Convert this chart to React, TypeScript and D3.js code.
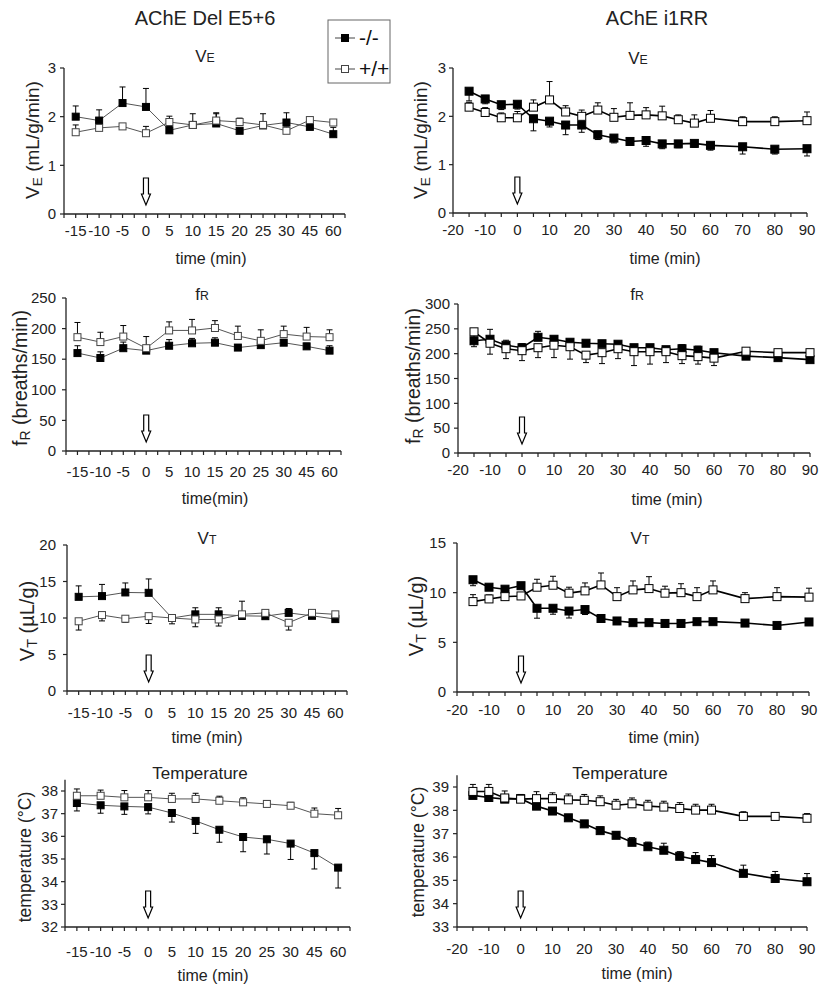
import React from "react";
import * as d3 from "d3";

// ---------- DATA ----------
const leftTimes = ["-15", "-10", "-5", "0", "5", "10", "15", "20", "25", "30", "45", "60"];
const rightTimes = [-15, -10, -5, 0, 5, 10, 15, 20, 25, 30, 35, 40, 45, 50, 55, 60, 70, 80, 90];
const rightXTicks = [-20, -10, 0, 10, 20, 30, 40, 50, 60, 70, 80, 90];

// Left: AChE Del E5+6
const veDelKO = [2.0, 1.92, 2.28, 2.2, 1.72, 1.83, 1.86, 1.71, 1.82, 1.88, 1.79, 1.64];
const veDelKOErr = [0.22, 0.22, 0.33, 0.38, 0.08, 0.06, 0.2, 0.05, 0.06, 0.2, 0.06, 0.14];
const veDelWT = [1.68, 1.77, 1.8, 1.66, 1.89, 1.83, 1.92, 1.89, 1.83, 1.71, 1.93, 1.88];
const veDelWTErr = [0.15, 0.06, 0.06, 0.14, 0.12, 0.23, 0.16, 0.08, 0.23, 0.08, 0.06, 0.06];

const frDelKO = [160, 152, 168, 164, 172, 176, 177, 169, 173, 177, 171, 164];
const frDelKOErr = [12, 10, 10, 5, 10, 8, 8, 5, 5, 5, 5, 8];
const frDelWT = [186, 178, 187, 168, 197, 197, 201, 188, 180, 191, 187, 186];
const frDelWTErr = [24, 16, 18, 19, 14, 18, 12, 16, 18, 13, 15, 12];

const vtDelKO = [12.9, 13.0, 13.5, 13.45, 10.0, 10.5, 10.5, 10.3, 10.25, 10.7, 10.3, 9.85];
const vtDelKOErr = [1.5, 1.6, 1.3, 1.9, 0.3, 0.9, 0.9, 2.0, 0.5, 0.6, 0.4, 0.3];
const vtDelWT = [9.55, 10.4, 9.9, 10.25, 10.0, 9.8, 9.8, 10.5, 10.7, 9.35, 10.7, 10.5];
const vtDelWTErr = [1.2, 0.8, 0.5, 1.0, 0.8, 1.0, 0.9, 0.7, 0.6, 1.0, 0.5, 0.3];

const tDelKO = [37.47, 37.37, 37.32, 37.29, 37.03, 36.68, 36.29, 35.97, 35.87, 35.68, 35.26, 34.62];
const tDelKOErr = [0.35, 0.35, 0.35, 0.3, 0.4, 0.55, 0.55, 0.65, 0.65, 0.7, 0.7, 0.9];
const tDelWT = [37.79, 37.79, 37.72, 37.72, 37.65, 37.65, 37.57, 37.5, 37.43, 37.35, 37.0, 36.93];
const tDelWTErr = [0.3, 0.25, 0.3, 0.3, 0.25, 0.25, 0.2, 0.2, 0.15, 0.15, 0.25, 0.3];

// Right: AChE i1RR
const veRRKO = [2.52, 2.36, 2.24, 2.25, 1.95, 1.9, 1.82, 1.82, 1.62, 1.55, 1.48, 1.5, 1.43, 1.43, 1.44, 1.4, 1.37, 1.32, 1.33];
const veRRKOErr = [0.2, 0.1, 0.1, 0.1, 0.25, 0.12, 0.2, 0.15, 0.1, 0.1, 0.08, 0.12, 0.1, 0.08, 0.08, 0.1, 0.15, 0.1, 0.15];
const veRRWT = [2.19, 2.08, 1.97, 1.97, 2.19, 2.34, 2.09, 2.0, 2.13, 1.98, 2.02, 2.03, 2.01, 1.93, 1.86, 1.96, 1.89, 1.89, 1.91];
const veRRWTErr = [0.1, 0.1, 0.1, 0.13, 0.15, 0.38, 0.13, 0.13, 0.15, 0.18, 0.26, 0.15, 0.2, 0.1, 0.17, 0.16, 0.1, 0.1, 0.18];

const frRRKO = [226, 229, 217, 212, 233, 229, 223, 221, 220, 219, 212, 212, 208, 210, 207, 202, 195, 192, 188];
const frRRKOErr = [5, 20, 10, 8, 12, 6, 5, 5, 5, 5, 5, 5, 5, 8, 8, 5, 5, 5, 5];
const frRRWT = [244, 221, 210, 206, 212, 217, 214, 197, 202, 210, 204, 204, 204, 196, 194, 191, 205, 202, 202];
const frRRWTErr = [30, 22, 20, 20, 20, 25, 25, 15, 22, 20, 28, 25, 22, 16, 15, 15, 5, 5, 5];

const vtRRKO = [11.3, 10.55, 10.35, 10.7, 8.43, 8.43, 8.15, 8.3, 7.4, 7.15, 6.98, 6.98, 6.9, 6.9, 7.08, 7.08, 6.94, 6.7, 7.05];
const vtRRKOErr = [0.6, 0.3, 0.3, 0.3, 1.0, 0.6, 0.7, 0.5, 0.3, 0.2, 0.2, 0.3, 0.2, 0.2, 0.2, 0.2, 0.2, 0.2, 0.2];
const vtRRWT = [9.1, 9.37, 9.6, 9.67, 10.55, 10.75, 9.95, 10.18, 10.78, 9.6, 10.28, 10.41, 9.95, 10.0, 9.6, 10.28, 9.4, 9.6, 9.55];
const vtRRWTErr = [0.7, 0.4, 0.3, 0.3, 0.8, 0.9, 0.6, 0.8, 1.2, 0.9, 0.9, 1.2, 0.7, 0.9, 0.9, 0.9, 0.6, 0.9, 0.9];

const tRRKO = [38.64, 38.55, 38.48, 38.5, 38.18, 37.97, 37.68, 37.42, 37.13, 36.93, 36.63, 36.44, 36.29, 36.03, 35.89, 35.76, 35.3, 35.08, 34.94];
const tRRKOErr = [0.1, 0.1, 0.1, 0.1, 0.1, 0.1, 0.1, 0.1, 0.15, 0.15, 0.2, 0.2, 0.3, 0.2, 0.3, 0.3, 0.35, 0.3, 0.35];
const tRRWT = [38.81, 38.81, 38.53, 38.48, 38.5, 38.5, 38.45, 38.43, 38.37, 38.22, 38.28, 38.18, 38.14, 38.08, 38.01, 38.01, 37.74, 37.74, 37.66];
const tRRWTErr = [0.3, 0.3, 0.3, 0.2, 0.3, 0.25, 0.25, 0.25, 0.25, 0.25, 0.25, 0.25, 0.25, 0.25, 0.25, 0.25, 0.2, 0.15, 0.2];

const veTicks = [0, 1, 2, 3];
const frDelTicks = [0, 50, 100, 150, 200, 250];
const frRRTicks = [0, 50, 100, 150, 200, 250, 300];
const vtDelTicks = [0, 5, 10, 15, 20];
const vtRRTicks = [0, 5, 10, 15];
const tDelTicks = [32, 33, 34, 35, 36, 37, 38];
const tRRTicks = [33, 34, 35, 36, 37, 38, 39];

// ---------- LAYOUT ----------
const FONT = "'Liberation Sans', Arial, sans-serif";
const INK = "#222";

type Series = { vals: number[]; errs: number[]; dir: number; filled: boolean };
type PanelCfg = {
  kind: "cat" | "lin";
  x0: number; x1: number;
  yBottom: number; yTopTick: number;
  ticks: number[]; yMax: number;
  tickLabelX: number; tickLabelY: number;
  title: React.ReactNode; titleX: number; titleY: number;
  ylab: React.ReactNode; ylabBase: number; ylabY: number; ylabFs: number;
  xlab: string; xlabX: number; xlabY: number;
  series: Series[];
};

const sub = (main: string, s: string, shift = 0) => (
  <>
    <tspan>{main}</tspan>
    <tspan fontSize="0.72em" baselineShift={shift ? -shift : undefined}>{s}</tspan>
  </>
);

const panels: PanelCfg[] = [
  {
    kind: "cat", x0: 64, x1: 345, yBottom: 214, yTopTick: 68, ticks: veTicks, yMax: 3,
    tickLabelX: 56, tickLabelY: 231,
    title: sub("V", "E"), titleX: 205, titleY: 56,
    ylab: <>{sub("V", "E", 3)} (mL/g/min)</>, ylabBase: 39, ylabY: 140, ylabFs: 19,
    xlab: "time (min)", xlabX: 211, xlabY: 258,
    series: [
      { vals: veDelKO, errs: veDelKOErr, dir: 1, filled: true },
      { vals: veDelWT, errs: veDelWTErr, dir: 1, filled: false },
    ],
  },
  {
    kind: "lin", x0: 453, x1: 807, yBottom: 213, yTopTick: 68, ticks: veTicks, yMax: 3,
    tickLabelX: 446, tickLabelY: 230,
    title: sub("V", "E"), titleX: 638, titleY: 58,
    ylab: <>{sub("V", "E", 3)} (mL/g/min)</>, ylabBase: 427, ylabY: 140, ylabFs: 19,
    xlab: "time (min)", xlabX: 665, xlabY: 258,
    series: [
      { vals: veRRKO, errs: veRRKOErr, dir: -1, filled: true },
      { vals: veRRWT, errs: veRRWTErr, dir: 1, filled: false },
    ],
  },
  {
    kind: "cat", x0: 66, x1: 341, yBottom: 451, yTopTick: 298, ticks: frDelTicks, yMax: 250,
    tickLabelX: 56, tickLabelY: 472,
    title: sub("f", "R"), titleX: 202, titleY: 294,
    ylab: <>{sub("f", "R", 3)} (breaths/min)</>, ylabBase: 27, ylabY: 378, ylabFs: 19.5,
    xlab: "time(min)", xlabX: 215, xlabY: 498,
    series: [
      { vals: frDelKO, errs: frDelKOErr, dir: 1, filled: true },
      { vals: frDelWT, errs: frDelWTErr, dir: 1, filled: false },
    ],
  },
  {
    kind: "lin", x0: 458, x1: 810, yBottom: 453, yTopTick: 304, ticks: frRRTicks, yMax: 300,
    tickLabelX: 450, tickLabelY: 470,
    title: sub("f", "R"), titleX: 637, titleY: 294,
    ylab: <>{sub("f", "R", 3)} (breaths/min)</>, ylabBase: 420, ylabY: 376, ylabFs: 19.5,
    xlab: "time (min)", xlabX: 667, xlabY: 499,
    series: [
      { vals: frRRKO, errs: frRRKOErr, dir: 1, filled: true },
      { vals: frRRWT, errs: frRRWTErr, dir: -1, filled: false },
    ],
  },
  {
    kind: "cat", x0: 67, x1: 347, yBottom: 691, yTopTick: 545, ticks: vtDelTicks, yMax: 20,
    tickLabelX: 56, tickLabelY: 713,
    title: sub("V", "T"), titleX: 207, titleY: 538,
    ylab: <>{sub("V", "T", 3)} (µL/g)</>, ylabBase: 34, ylabY: 621, ylabFs: 20,
    xlab: "time (min)", xlabX: 207, xlabY: 737,
    series: [
      { vals: vtDelKO, errs: vtDelKOErr, dir: 1, filled: true },
      { vals: vtDelWT, errs: vtDelWTErr, dir: -1, filled: false },
    ],
  },
  {
    kind: "lin", x0: 457, x1: 809, yBottom: 692, yTopTick: 543, ticks: vtRRTicks, yMax: 15,
    tickLabelX: 446, tickLabelY: 710,
    title: sub("V", "T"), titleX: 640, titleY: 538,
    ylab: <>{sub("V", "T", 3)} (µL/g)</>, ylabBase: 423, ylabY: 616, ylabFs: 20,
    xlab: "time (min)", xlabX: 664, xlabY: 737,
    series: [
      { vals: vtRRKO, errs: vtRRKOErr, dir: -1, filled: true },
      { vals: vtRRWT, errs: vtRRWTErr, dir: 1, filled: false },
    ],
  },
  {
    kind: "cat", x0: 65, x1: 350, yBottom: 927, yTopTick: 791, ticks: tDelTicks, yMax: 38.5,
    tickLabelX: 58, tickLabelY: 952,
    title: "Temperature", titleX: 200, titleY: 773,
    ylab: "temperature (°C)", ylabBase: 31, ylabY: 857, ylabFs: 17.5,
    xlab: "time (min)", xlabX: 213, xlabY: 975,
    series: [
      { vals: tDelKO, errs: tDelKOErr, dir: -1, filled: true },
      { vals: tDelWT, errs: tDelWTErr, dir: 1, filled: false },
    ],
  },
  {
    kind: "lin", x0: 457, x1: 807, yBottom: 927, yTopTick: 787, ticks: tRRTicks, yMax: 39.5,
    tickLabelX: 449, tickLabelY: 949,
    title: "Temperature", titleX: 620, titleY: 773,
    ylab: "temperature (°C)", ylabBase: 424, ylabY: 852, ylabFs: 17.5,
    xlab: "time (min)", xlabX: 637, xlabY: 973,
    series: [
      { vals: tRRKO, errs: tRRKOErr, dir: 1, filled: true },
      { vals: tRRWT, errs: tRRWTErr, dir: 1, filled: false },
    ],
  },
];

const bl = (center: number, fs: number) => center + fs * 0.35;

function Arrow({ x, bottom }: { x: number; bottom: number }) {
  const top = bottom - 27;
  const headTop = bottom - 11;
  const d = `M${x - 2.5},${top} L${x + 2.5},${top} L${x + 2.5},${headTop} L${x + 4.5},${headTop} L${x},${bottom} L${x - 4.5},${headTop} L${x - 2.5},${headTop} Z`;
  return <path d={d} fill="#fff" stroke="#000" strokeWidth={1.2} />;
}

function Panel({ p }: { p: PanelCfg }) {
  const y0 = p.ticks[0];
  const yLast = p.ticks[p.ticks.length - 1];
  const y = d3.scaleLinear().domain([y0, yLast]).range([p.yBottom, p.yTopTick]);
  const left = p.kind === "cat";
  let xPos: (i: number) => number;
  let xTickPos: number[] = [];
  let xLabels: { x: number; t: string }[] = [];
  let arrowX: number;
  if (left) {
    const xb = d3.scaleBand<string>().domain(leftTimes).range([p.x0, p.x1]).padding(0);
    const bw = xb.bandwidth();
    xPos = (i) => (xb(leftTimes[i]) as number) + bw / 2;
    xTickPos = d3.range(0, leftTimes.length * 2 + 1).map((k) => p.x0 + (k * bw) / 2);
    xLabels = leftTimes.map((t, i) => ({ x: xPos(i), t }));
    arrowX = xPos(leftTimes.indexOf("0"));
  } else {
    const xl = d3.scaleLinear().domain([-20, 90]).range([p.x0, p.x1]);
    xPos = (i) => xl(rightTimes[i]);
    xTickPos = d3.range(-20, 91, 5).map((v) => xl(v));
    xLabels = rightXTicks.map((v) => ({ x: xl(v), t: String(v) }));
    arrowX = xl(0);
  }
  const lineColor = left ? "#555" : "#000";
  const lineW = left ? 1 : 1.6;
  const ms = left ? 7 : 8;
  const line = d3.line<number>().x((_, i) => xPos(i)).y((v) => y(v));
  return (
    <g>
      <line x1={p.x0} x2={p.x0} y1={p.yBottom} y2={y(p.yMax)} stroke={INK} strokeWidth={1.3} />
      <line x1={p.x0} x2={p.x1} y1={p.yBottom} y2={p.yBottom} stroke={INK} strokeWidth={1.3} />
      {p.ticks.map((t) => (
        <g key={"yt" + t}>
          <line x1={p.x0 - 4} x2={p.x0} y1={y(t)} y2={y(t)} stroke={INK} strokeWidth={1.2} />
          <text x={p.tickLabelX} y={bl(y(t), 15)} textAnchor="end" fontSize={15} fill={INK}>
            {t}
          </text>
        </g>
      ))}
      {xTickPos.map((x, i) => (
        <line key={"xt" + i} x1={x} x2={x} y1={p.yBottom} y2={p.yBottom + 4} stroke={INK} strokeWidth={1.2} />
      ))}
      {xLabels.map((l, i) => (
        <text key={"xl" + i} x={l.x} y={bl(p.tickLabelY, 15)} textAnchor="middle" fontSize={15} fill={INK}>
          {l.t}
        </text>
      ))}
      <text x={p.xlabX} y={bl(p.xlabY, 16)} textAnchor="middle" fontSize={16} fill={INK}>
        {p.xlab}
      </text>
      <text x={p.titleX} y={bl(p.titleY, 17)} textAnchor="middle" fontSize={17} fill={INK}>
        {p.title}
      </text>
      <text
        transform={`translate(${p.ylabBase},${p.ylabY}) rotate(-90)`}
        textAnchor="middle"
        fontSize={p.ylabFs}
        fill={INK}
      >
        {p.ylab}
      </text>
      <Arrow x={arrowX} bottom={p.yBottom - 9} />
      {p.series.map((s, si) => (
        <g key={"eb" + si}>
          {s.vals.map((v, i) => {
            const x = xPos(i);
            const ye = y(v + s.dir * s.errs[i]);
            return (
              <g key={i}>
                <line x1={x} x2={x} y1={y(v)} y2={ye} stroke="#000" strokeWidth={1} />
                <line x1={x - 3} x2={x + 3} y1={ye} y2={ye} stroke="#000" strokeWidth={1} />
              </g>
            );
          })}
        </g>
      ))}
      {p.series.map((s, si) => (
        <path key={"ln" + si} d={line(s.vals) || ""} fill="none" stroke={lineColor} strokeWidth={lineW} />
      ))}
      {p.series.map((s, si) => (
        <g key={"mk" + si}>
          {s.vals.map((v, i) => (
            <rect
              key={i}
              x={xPos(i) - ms / 2}
              y={y(v) - ms / 2}
              width={ms}
              height={ms}
              fill={s.filled ? "#000" : "#fff"}
              stroke={s.filled ? "#000" : left ? "#444" : "#000"}
              strokeWidth={1}
            />
          ))}
        </g>
      ))}
    </g>
  );
}

function Legend() {
  const x = 328, yTop = 20, w = 62, h = 63;
  const rows = [
    { label: "-/-", filled: true, y: 38 },
    { label: "+/+", filled: false, y: 69 },
  ];
  return (
    <g>
      <rect x={x} y={yTop} width={w} height={h} fill="#fff" stroke="#666" strokeWidth={1} />
      {rows.map((r) => (
        <g key={r.label}>
          <line x1={335} x2={355} y1={r.y} y2={r.y} stroke="#444" strokeWidth={1} />
          <rect x={341.5} y={r.y - 3.5} width={7} height={7} fill={r.filled ? "#000" : "#fff"} stroke={r.filled ? "#000" : "#444"} />
          <text x={359} y={bl(r.y, 21)} fontSize={21} fill="#111">
            {r.label}
          </text>
        </g>
      ))}
    </g>
  );
}

export default function App() {
  return (
    <svg width={829} height={987} style={{ display: "block", position: "absolute", left: 0, top: 0 }} fontFamily={FONT}>
      <rect width={829} height={987} fill="#fff" />
      <text x={205} y={bl(18, 20)} textAnchor="middle" fontSize={20} fill={INK}>
        AChE Del E5+6
      </text>
      <text x={657} y={bl(18, 20)} textAnchor="middle" fontSize={20} fill={INK}>
        AChE i1RR
      </text>
      {panels.map((p, i) => (
        <Panel key={i} p={p} />
      ))}
      <Legend />
    </svg>
  );
}
